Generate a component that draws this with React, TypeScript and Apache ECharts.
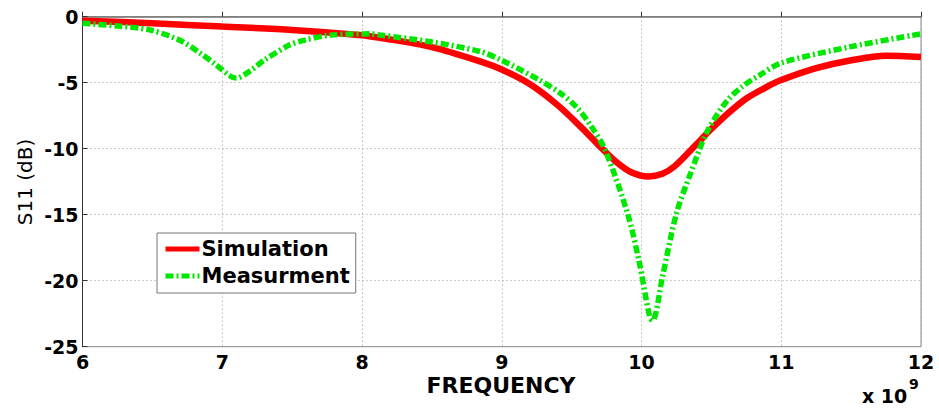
import React, { useEffect, useRef } from "react";
import * as echarts from "echarts";

const xTicks = [6, 7, 8, 9, 10, 11, 12];
const yTicks = [0, -5, -10, -15, -20, -25];

const simFreq = [6.0, 6.5, 7.0, 7.5, 8.0, 8.13, 8.5, 8.85, 9.0, 9.2, 9.4, 9.58, 9.7, 9.82, 9.93, 10.05, 10.15, 10.24, 10.39, 10.49, 10.6, 10.75, 10.9, 11.0, 11.25, 11.5, 11.75, 12.0];
const simS11 = [-0.3, -0.5, -0.75, -1.0, -1.4, -1.6, -2.3, -3.4, -4.0, -5.1, -6.7, -8.5, -9.8, -11.0, -11.8, -12.1, -11.9, -11.3, -9.7, -8.6, -7.5, -6.2, -5.3, -4.8, -3.9, -3.3, -2.95, -3.05];

const measFreq = [6.0, 6.25, 6.48, 6.7, 6.84, 6.95, 7.05, 7.1, 7.2, 7.3, 7.48, 7.6, 7.77, 8.06, 8.13, 8.49, 8.85, 9.0, 9.27, 9.42, 9.54, 9.64, 9.74, 9.9, 9.98, 10.06, 10.08, 10.15, 10.25, 10.35, 10.47, 10.61, 10.72, 10.85, 11.0, 11.5, 12.0];
const measS11 = [-0.5, -0.7, -1.0, -1.8, -2.75, -3.6, -4.45, -4.65, -4.1, -3.3, -2.15, -1.75, -1.4, -1.3, -1.39, -1.9, -2.65, -3.3, -4.8, -5.8, -6.9, -8.3, -10.1, -14.9, -18.4, -22.8, -23.0, -19.7, -14.9, -11.9, -8.7, -6.4, -5.3, -4.4, -3.5, -2.27, -1.3];

const seriesNames = ["Simulation", "Measurment"];

const FONT = "DejaVu Sans";

export default function App() {
  const ref = useRef<HTMLDivElement>(null);
  useEffect(() => {
    if (!ref.current) return;
    const chart = echarts.init(ref.current, null, { renderer: "svg" });
    const gl = { left: 82.5, right: 18, top: 16.7, bottom: 62.3 };
    chart.setOption({
      animation: false,
      backgroundColor: "#ffffff",
      grid: {
        ...gl,
        show: true,
        borderColor: "#888",
        borderWidth: 1,
        backgroundColor: "transparent",
      },
      xAxis: {
        type: "value",
        min: xTicks[0],
        max: xTicks[xTicks.length - 1],
        interval: 1,
        axisLine: { show: true, lineStyle: { color: "#777", width: 1.5 } },
        axisTick: { show: true, inside: true, length: 5, lineStyle: { color: "#333" } },
        axisLabel: {
          fontFamily: FONT,
          fontWeight: "bold",
          fontSize: 19,
          color: "#000",
          margin: 6,
          formatter: (v: number) => String(v),
        },
        splitLine: { show: true, lineStyle: { color: "#999", type: [1, 3], width: 1 } },
      },
      yAxis: {
        type: "value",
        min: yTicks[yTicks.length - 1],
        max: yTicks[0],
        interval: 5,
        axisLine: { show: true, lineStyle: { color: "#333", width: 1 } },
        axisTick: { show: true, inside: true, length: 5, lineStyle: { color: "#333" } },
        axisLabel: {
          fontFamily: FONT,
          fontWeight: "bold",
          fontSize: 19,
          color: "#000",
          margin: 4,
        },
        splitLine: { show: true, lineStyle: { color: "#999", type: [1, 3], width: 1 } },
      },
      legend: {
        show: true,
        orient: "vertical",
        left: 157,
        top: 233,
        padding: [5, 6, 6, 6],
        itemGap: 5,
        itemWidth: 34,
        itemHeight: 14,
        backgroundColor: "#fff",
        borderColor: "#777",
        borderWidth: 1,
        borderRadius: 0,
        data: seriesNames,
        itemStyle: { opacity: 0 },
        lineStyle: { width: 5 },
        textStyle: {
          fontFamily: FONT,
          fontWeight: "bold",
          fontSize: 21,
          color: "#000",
          lineHeight: 22,
          padding: [0, 0, 0, -3],
        },
      },
      series: [
        {
          name: seriesNames[0],
          type: "line",
          data: simFreq.map((f, i) => [f, simS11[i]]),
          smooth: 0.3,
          symbol: "none",
          lineStyle: { color: "#ff0000", width: 6.5 },
          itemStyle: { color: "#ff0000" },
          z: 2,
        },
        {
          name: seriesNames[1],
          type: "line",
          data: measFreq.map((f, i) => [f, measS11[i]]),
          smooth: 0.3,
          symbol: "none",
          lineStyle: { color: "#00e800", width: 5.5, type: [8, 3, 2, 3] },
          itemStyle: { color: "#00e800" },
          z: 3,
        },
      ],
      graphic: [
        {
          type: "text",
          x: 25,
          y: 182,
          rotation: Math.PI / 2,
          style: {
            text: "S11 (dB)",
            font: `20px "${FONT}"`,
            fill: "#000",
            textAlign: "center",
            textVerticalAlign: "middle",
          },
        },
        {
          type: "text",
          x: 501,
          y: 385,
          style: {
            text: "FREQUENCY",
            font: `bold 22px "${FONT}"`,
            fill: "#000",
            textAlign: "center",
            textVerticalAlign: "middle",
          },
        },
        {
          type: "text",
          x: 862,
          y: 396,
          style: {
            text: "x 10",
            font: `bold 19px "${FONT}"`,
            fill: "#000",
            textAlign: "left",
            textVerticalAlign: "middle",
          },
        },
        {
          type: "text",
          x: 909,
          y: 384,
          style: {
            text: "9",
            font: `bold 14px "${FONT}"`,
            fill: "#000",
            textAlign: "left",
            textVerticalAlign: "middle",
          },
        },
      ],
    });
    return () => chart.dispose();
  }, []);
  return (
    <div
      ref={ref}
      style={{ position: "fixed", left: 0, top: 0, width: 939, height: 409 }}
    />
  );
}
